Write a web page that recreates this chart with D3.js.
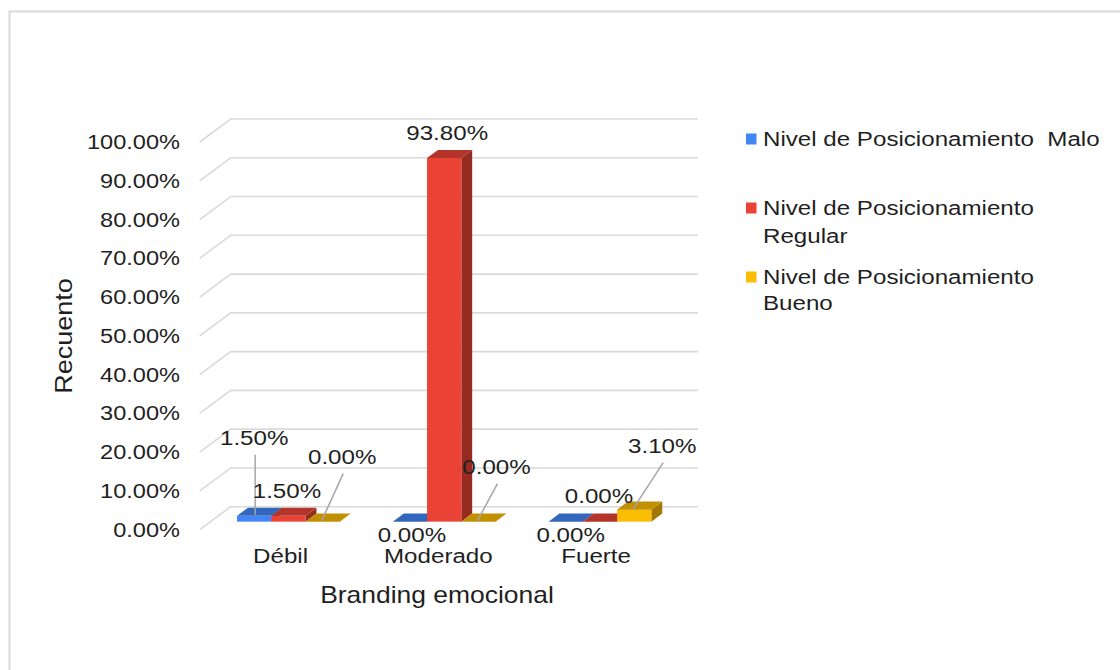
<!DOCTYPE html>
<html>
<head>
<meta charset="utf-8">
<script src="https://cdn.jsdelivr.net/npm/d3@7"></script>
<style>
  html, body { margin: 0; padding: 0; background: #fff; }
  svg text { font-family: "Liberation Sans", Arial, sans-serif; fill: #1f1f1f; white-space: pre; }
</style>
</head>
<body>
<svg id="chart" width="1120" height="670"></svg>
<script>
// ---------- data ----------
const categories = ["Débil", "Moderado", "Fuerte"];
const seriesNames = ["Malo", "Regular", "Bueno"];
const legendLabels = [
  ["Nivel de Posicionamiento  Malo"],
  ["Nivel de Posicionamiento", "Regular"],
  ["Nivel de Posicionamiento", "Bueno"]
];
const maloValues    = [0.015, 0.000, 0.000];
const regularValues = [0.015, 0.938, 0.000];
const buenoValues   = [0.000, 0.000, 0.031];
const yTickValues   = [0, 0.1, 0.2, 0.3, 0.4, 0.5, 0.6, 0.7, 0.8, 0.9, 1.0];
const xTitle = "Branding emocional";
const yTitle = "Recuento";

// ---------- style / layout ----------
const colors = ["#4285F4", "#EA4335", "#FBBC04"];
const SX = 1.15; // horizontal stretch of the original picture
// label offsets (dx, dy) from bar top-front centre, and whether a leader line is drawn
const labelOffsets = [
  [[0, -78, true], [2, 12.5, false], [5, 12.5, false]],        // Malo
  [[-1.5, -25, false], [3, -25, false], [-1, -26, false]],     // Regular
  [[19.5, -65, true], [18, -55, true], [28, -64, true]]        // Bueno
];

const svg = d3.select("#chart");
const seriesValues = [maloValues, regularValues, buenoValues];

// frame
svg.append("rect").attr("x", 9.5).attr("y", 11.5).attr("width", 1200).attr("height", 700)
  .attr("fill", "none").attr("stroke", "#d9d9d9").attr("stroke-width", 2);

// 3D geometry
const backX = [230.7, 698];
const depth = [-31, 23];            // back wall -> front edge
const yBack = d3.scaleLinear().domain([0, 1]).range([506.7, 119]);
const yFront = d3.scaleLinear().domain([0, 1]).range([506.7 + depth[1], 119 + depth[1]]);
const barFrontF = 0.65, barBackF = 0.30;
const bfx = depth[0] * barFrontF, bfy = depth[1] * barFrontF;
const tdx = depth[0] * (barBackF - barFrontF), tdy = depth[1] * (barBackF - barFrontF);
const yBar = d3.scaleLinear().domain([0, 1]).range([506.7 + bfy, 119 + bfy]);
const xCat = d3.scaleBand().domain(categories).range([backX[0] + bfx, backX[1] + bfx])
  .paddingInner(0.34).paddingOuter(0.17);
const xSer = d3.scaleBand().domain(seriesNames).range([0, xCat.bandwidth()]);
const xFrontCat = d3.scaleBand().domain(categories).range([backX[0] + depth[0] + 2, backX[1] + depth[0] + 8])
  .paddingInner(0.34).paddingOuter(0.17);

// grid
const grid = svg.append("g").attr("stroke", "#dadada").attr("stroke-width", 1.6).attr("fill", "none");
yTickValues.forEach(v => {
  grid.append("path").attr("d",
    `M${backX[1]},${yBack(v)}L${backX[0]},${yBack(v)}L${backX[0] + depth[0]},${yBack(v) + depth[1]}`);
});

function stretchedText(g, x, y, s, size, anchor, extra) {
  return g.append("text")
    .attr("transform", `translate(${x},${y}) scale(${SX},1)` + (extra || ""))
    .attr("text-anchor", anchor)
    .attr("font-size", size)
    .text(s);
}

// y tick labels
const yAxisG = svg.append("g");
yTickValues.forEach(v => {
  stretchedText(yAxisG, 180, yFront(v) + 7, d3.format(".2%")(v), 20.5, "end");
});

// bars
const barsG = svg.append("g");
categories.forEach((c, ci) => {
  seriesNames.forEach((s, si) => {
    const v = seriesValues[si][ci];
    const x0 = xCat(c) + xSer(s), x1 = x0 + xSer.bandwidth();
    const yb = yBar(0), yt = yBar(v);
    const col = d3.color(colors[si]);
    const top = col.darker(0.72).formatHex(), side = col.darker(1.25).formatHex();
    // side
    barsG.append("path").attr("fill", side)
      .attr("d", `M${x1},${yb}L${x1 + tdx},${yb + tdy}L${x1 + tdx},${yt + tdy}L${x1},${yt}Z`);
    // front
    if (yb - yt > 0)
      barsG.append("rect").attr("x", x0).attr("y", yt).attr("width", x1 - x0).attr("height", yb - yt)
        .attr("fill", colors[si]);
    // top
    barsG.append("path").attr("fill", top)
      .attr("d", `M${x0},${yt}L${x1},${yt}L${x1 + tdx},${yt + tdy}L${x0 + tdx},${yt + tdy}Z`);
  });
});

// data labels
const labG = svg.append("g");
categories.forEach((c, ci) => {
  seriesNames.forEach((s, si) => {
    const v = seriesValues[si][ci];
    const cx = xCat(c) + xSer(s) + xSer.bandwidth() / 2;
    const cy = yBar(v);
    const [dx, dy, leader] = labelOffsets[si][ci];
    const lx = cx + dx, ly = cy + dy;
    if (leader) {
      labG.append("line").attr("x1", lx + 1).attr("y1", ly + 17).attr("x2", cx + (si === 0 ? 1 : -1)).attr("y2", cy - 1)
        .attr("stroke", "#a6a6a6").attr("stroke-width", 1.5);
    }
    stretchedText(labG, lx, ly + 7.5, d3.format(".2%")(v), 21, "middle");
  });
});

// category labels
const xAxisG = svg.append("g");
categories.forEach(c => {
  stretchedText(xAxisG, xFrontCat(c) + xFrontCat.bandwidth() / 2, 563, c, 21, "middle");
});

// axis titles
stretchedText(svg, 437, 603, xTitle, 23, "middle");
svg.append("text").attr("transform", `translate(72,336) rotate(-90) scale(${SX},1)`)
  .attr("text-anchor", "middle").attr("font-size", 23.5).text(yTitle);

// legend
const legG = svg.append("g");
const legY = [[139], [208, 236], [277, 303]];
legendLabels.forEach((lines, i) => {
  legG.append("rect").attr("x", 746).attr("y", legY[i][0] - 5.5).attr("width", 10.5).attr("height", 11)
    .attr("fill", colors[i]);
  lines.forEach((t, j) => {
    stretchedText(legG, 763, legY[i][j] + 7, t, 21, "start");
  });
});
</script>
</body>
</html>
